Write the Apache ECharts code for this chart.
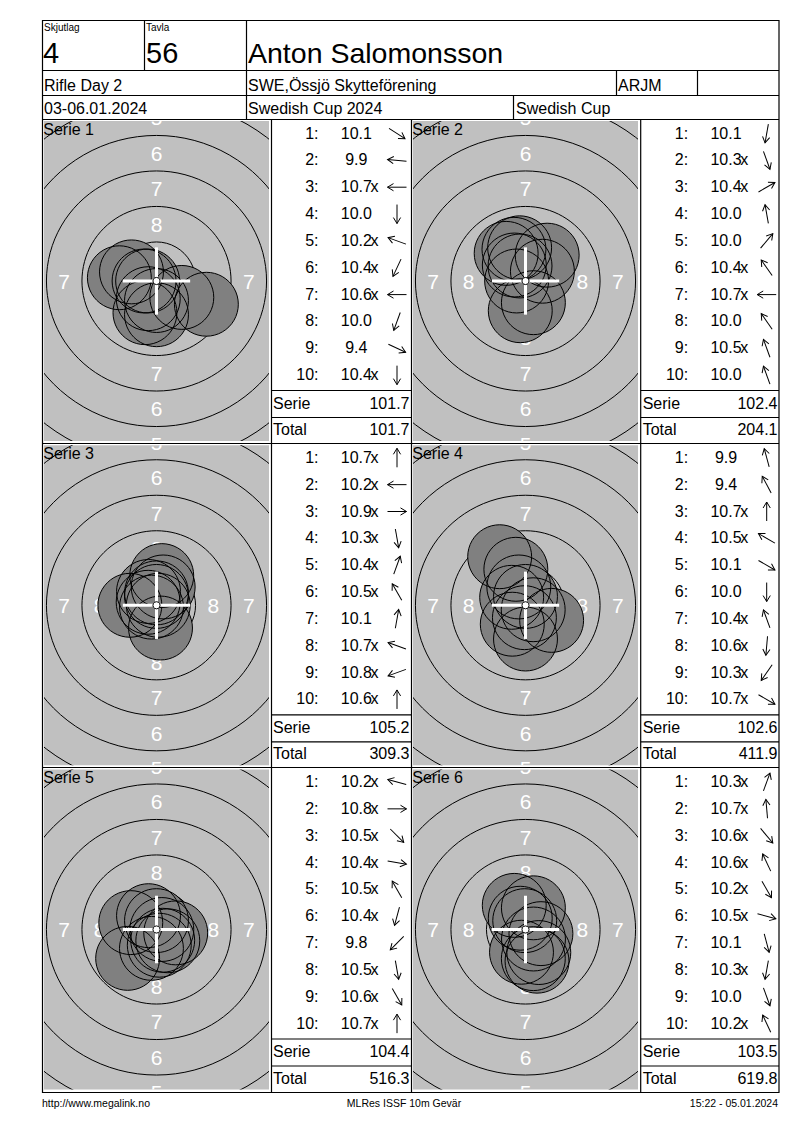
<!DOCTYPE html>
<html><head><meta charset="utf-8">
<script src="https://cdn.jsdelivr.net/npm/echarts@6/dist/echarts.min.js"></script>
<style>html,body{margin:0;padding:0;background:#fff}#c{width:800px;height:1130px}</style>
</head><body><div id="c"></div>
<script>
// ---------- data ----------
const SERIES_NAMES = ['Serie 1', 'Serie 2', 'Serie 3', 'Serie 4', 'Serie 5', 'Serie 6'];
const SCORES_1 = ['10.1', '9.9', '10.7x', '10.0', '10.2x', '10.4x', '10.6x', '10.0', '9.4', '10.4x'];
const SCORES_2 = ['10.1', '10.3x', '10.4x', '10.0', '10.0', '10.4x', '10.7x', '10.0', '10.5x', '10.0'];
const SCORES_3 = ['10.7x', '10.2x', '10.9x', '10.3x', '10.4x', '10.5x', '10.1', '10.7x', '10.8x', '10.6x'];
const SCORES_4 = ['9.9', '9.4', '10.7x', '10.5x', '10.1', '10.0', '10.4x', '10.6x', '10.3x', '10.7x'];
const SCORES_5 = ['10.2x', '10.8x', '10.5x', '10.4x', '10.5x', '10.4x', '9.8', '10.5x', '10.6x', '10.7x'];
const SCORES_6 = ['10.3x', '10.7x', '10.6x', '10.6x', '10.2x', '10.5x', '10.1', '10.3x', '10.0', '10.2x'];
// direction of each shot from the centre (degrees, counter-clockwise from 3 o'clock), read from the arrows
const ANGLES_1 = [-33, 175, 180, 270, 160, 245, 180, 250, 335, 270];
const ANGLES_2 = [260, 290, 30, 100, 50, 125, 180, 125, 110, 110];
const ANGLES_3 = [90, 180, 0, 280, 70, 120, 80, 160, 200, 90];
const ANGLES_4 = [105, 118, 90, 150, 330, 270, 110, 265, 235, 330];
const ANGLES_5 = [165, 0, 315, 350, 120, 255, 225, 280, 300, 90];
const ANGLES_6 = [70, 95, 310, 115, 300, 345, 285, 260, 290, 115];
const SERIE_SUMS = ['101.7', '102.4', '105.2', '102.6', '104.4', '103.5'];
const RUNNING_TOTALS = ['101.7', '204.1', '309.3', '411.9', '516.3', '619.8'];
const RING_LABELS = ['8', '7', '6', '5'];

const HEADER_SKJUTLAG = '4';
const HEADER_TAVLA = '56';
const SHOOTER = 'Anton Salomonsson';
const EVENT = 'Rifle Day 2';
const CLUB = 'SWE,Össjö Skytteförening';
const CLASS = 'ARJM';
const DATES = '03-06.01.2024';
const COMPETITION = 'Swedish Cup 2024';
const CUP = 'Swedish Cup';
const FOOT_LEFT = 'http://www.megalink.no';
const FOOT_MID = 'MLRes ISSF 10m Gevär';
const FOOT_RIGHT = '15:22 - 05.01.2024';

// ---------- ISSF 10m air rifle target geometry (mm) ----------
const RING_OUTER_MM = [0.25, 2.75, 5.25, 7.75, 10.25, 12.75, 15.25]; // rings 10..4
const SHOT_RADIUS_MM = 2.25;

const SCORES = [SCORES_1, SCORES_2, SCORES_3, SCORES_4, SCORES_5, SCORES_6];
const ANGLES = [ANGLES_1, ANGLES_2, ANGLES_3, ANGLES_4, ANGLES_5, ANGLES_6];

// ---------- layout ----------
const FONT = "'Liberation Sans', Arial, sans-serif";
const PX_PER_MM = 14.2;
const GRID_W = 225, GRID_H = 320;
const XR = GRID_W / 2 / PX_PER_MM, YR = GRID_H / 2 / PX_PER_MM;
const COL_X = [42, 411];
const TABLE_X = [271, 640.7];
const COL_R = [411, 779];
const ROW_Y = [119, 443.3, 767.5];
const ROW_STEP = 26.85;

const grids = [], xAxes = [], yAxes = [], series = [], G = [];

function txt(text, x, y, size, align, extra) {
  return Object.assign({
    type: 'text', x: x, y: y, z: 20, silent: true,
    style: { text: text, font: size + 'px ' + FONT, fill: '#000', align: align || 'left', verticalAlign: 'middle' }
  }, extra || {});
}
function ln(x1, y1, x2, y2) {
  return { type: 'line', z: 20, silent: true, shape: { x1: x1, y1: y1, x2: x2, y2: y2 }, style: { stroke: '#000', lineWidth: 1.2 } };
}

// ring-label items (top, bottom, left, right of each ring band) that fall on the visible target
const labelItems = [];
RING_LABELS.forEach((lab) => {
  const ringNo = parseInt(lab, 10);
  const k = 10 - ringNo;
  const mid = (RING_OUTER_MM[k] + RING_OUTER_MM[k - 1]) / 2;
  [[0, mid], [0, -mid], [-mid, 0], [mid, 0]].forEach(p => {
    if (Math.abs(p[0]) <= XR - 0.3 && Math.abs(p[1]) <= YR + 0.5) labelItems.push({ value: p, name: lab });
  });
});

for (let p = 0; p < 6; p++) {
  const col = p % 2, row = Math.floor(p / 2);
  grids.push({ left: COL_X[col] + 2, top: ROW_Y[row] + 2, width: GRID_W, height: GRID_H,
    show: true, backgroundColor: '#c0c0c0', borderWidth: 0 });
  xAxes.push({ type: 'value', gridIndex: p, min: -XR, max: XR, show: false });
  yAxes.push({ type: 'value', gridIndex: p, min: -YR, max: YR, show: false });

  const base = { type: 'custom', coordinateSystem: 'cartesian2d', xAxisIndex: p, yAxisIndex: p,
    clip: true, silent: true, animation: false };

  // ring lines
  series.push(Object.assign({}, base, {
    z: 2,
    data: RING_OUTER_MM.slice(1).map(r => [0, 0, r]),
    renderItem: (params, api) => {
      const c = api.coord([0, 0]);
      const r = api.size([api.value(2), 0])[0];
      return { type: 'circle', shape: { cx: c[0], cy: c[1], r: r }, style: { fill: 'none', stroke: '#000', lineWidth: 1 } };
    }
  }));
  // ring numbers
  series.push(Object.assign({}, base, {
    z: 3,
    data: labelItems,
    renderItem: (params, api) => {
      const c = api.coord([api.value(0), api.value(1)]);
      return { type: 'text', x: c[0], y: c[1],
        style: { text: labelItems[params.dataIndex].name, font: '21px ' + FONT, fill: '#ffffff', align: 'center', verticalAlign: 'middle' } };
    }
  }));
  // shots
  const shots = SCORES[p].map((s, i) => {
    const d = Math.max(0, (10.95 - parseFloat(s)) * 2.5);
    const a = ANGLES[p][i] * Math.PI / 180;
    return [d * Math.cos(a), d * Math.sin(a)];
  });
  const shotRender = (fill) => (params, api) => {
    const c = api.coord([api.value(0), api.value(1)]);
    const r = api.size([SHOT_RADIUS_MM, 0])[0];
    return { type: 'circle', shape: { cx: c[0], cy: c[1], r: r },
      style: fill ? { fill: '#808080', stroke: null } : { fill: 'none', stroke: '#000', lineWidth: 1 } };
  };
  series.push(Object.assign({}, base, { z: 4, data: shots, renderItem: shotRender(true) }));
  series.push(Object.assign({}, base, { z: 5, data: shots, renderItem: shotRender(false) }));
  // crosshair + 10 ring
  series.push(Object.assign({}, base, {
    z: 6,
    data: [[0, 0]],
    renderItem: (params, api) => {
      const c = api.coord([0, 0]);
      const L = api.size([2.37, 0])[0];
      const r10 = api.size([RING_OUTER_MM[0], 0])[0];
      return { type: 'group', children: [
        { type: 'rect', shape: { x: c[0] - L, y: c[1] - 1.5, width: 2 * L, height: 3 }, style: { fill: '#fff' } },
        { type: 'rect', shape: { x: c[0] - 1.5, y: c[1] - L, width: 3, height: 2 * L }, style: { fill: '#fff' } },
        { type: 'circle', shape: { cx: c[0], cy: c[1], r: r10 }, style: { fill: '#fff', stroke: '#000', lineWidth: 1 } }
      ] };
    }
  }));

  // panel title
  G.push(txt(SERIES_NAMES[p], COL_X[col] + 1.3, ROW_Y[row] + 10, 16));

  // score table
  const TL = TABLE_X[col], RT = ROW_Y[row];
  SCORES[p].forEach((s, i) => {
    const y = RT + 14 + i * ROW_STEP;
    G.push(txt((i + 1) + ':', TL + 47.5, y, 16, 'right'));
    const num = s.replace('x', '');
    G.push(txt(num, TL + 85.3, y, 16, 'center'));
    if (s.indexOf('x') >= 0) G.push(txt('x', TL + 99.5, y, 16, 'left'));
    const a = ANGLES[p][i] * Math.PI / 180;
    G.push({ type: 'group', x: TL + 126, y: y + 0.5, rotation: a, z: 20, silent: true, children: [
      { type: 'polyline', shape: { points: [[-9.5, 0], [9.5, 0]] }, style: { stroke: '#000', lineWidth: 1, fill: 'none' } },
      { type: 'polyline', shape: { points: [[3.5, -3.6], [9.5, 0], [3.5, 3.6]] }, style: { stroke: '#000', lineWidth: 1, fill: 'none' } }
    ] });
  });
  G.push(ln(TL, RT + 271.5, COL_R[col], RT + 271.5));
  G.push(ln(TL, RT + 298.5, COL_R[col], RT + 298.5));
  G.push(txt('Serie', TL + 2, RT + 284.3, 16));
  G.push(txt(SERIE_SUMS[p], COL_R[col] - 1.5, RT + 284.3, 16, 'right'));
  G.push(txt('Total', TL + 2, RT + 310.5, 16));
  G.push(txt(RUNNING_TOTALS[p], COL_R[col] - 1.5, RT + 310.5, 16, 'right'));
}

// frame and header grid
G.push({ type: 'rect', z: 20, silent: true, shape: { x: 42.5, y: 20.5, width: 736.5, height: 1072 }, style: { fill: 'none', stroke: '#000', lineWidth: 1.2 } });
[70.5, 95.5, 119.5, 443.5, 767.5].forEach(y => G.push(ln(42.5, y, 779, y)));
G.push(ln(144.5, 20.5, 144.5, 70.5));
G.push(ln(246.5, 20.5, 246.5, 119.5));
G.push(ln(616.5, 70.5, 616.5, 95.5));
G.push(ln(697.5, 70.5, 697.5, 95.5));
G.push(ln(513.5, 95.5, 513.5, 119.5));
[271.5, 411.5, 640.7].forEach(x => G.push(ln(x, 119.5, x, 1092.5)));

// header texts
G.push(txt('Skjutlag', 44, 27, 10));
G.push(txt('Tavla', 146, 27, 10));
G.push(txt(HEADER_SKJUTLAG, 43, 53, 29));
G.push(txt(HEADER_TAVLA, 146, 53, 29));
G.push(txt(SHOOTER, 248, 53, 28.5));
G.push(txt(EVENT, 44, 85, 16));
G.push(txt(CLUB, 248, 85, 16));
G.push(txt(CLASS, 618, 85, 16));
G.push(txt(DATES, 44, 108, 16));
G.push(txt(COMPETITION, 248, 108, 16));
G.push(txt(CUP, 516, 108, 16));
// footer
G.push(txt(FOOT_LEFT, 42, 1103, 10.5));
G.push(txt(FOOT_MID, 404, 1103, 10.5, 'center'));
G.push(txt(FOOT_RIGHT, 778, 1103, 10.5, 'right'));

const chart = echarts.init(document.getElementById('c'), null, { renderer: 'svg', width: 800, height: 1130 });
chart.setOption({
  animation: false,
  backgroundColor: '#ffffff',
  grid: grids,
  xAxis: xAxes,
  yAxis: yAxes,
  series: series,
  graphic: { elements: G }
});
</script>
</body></html>
